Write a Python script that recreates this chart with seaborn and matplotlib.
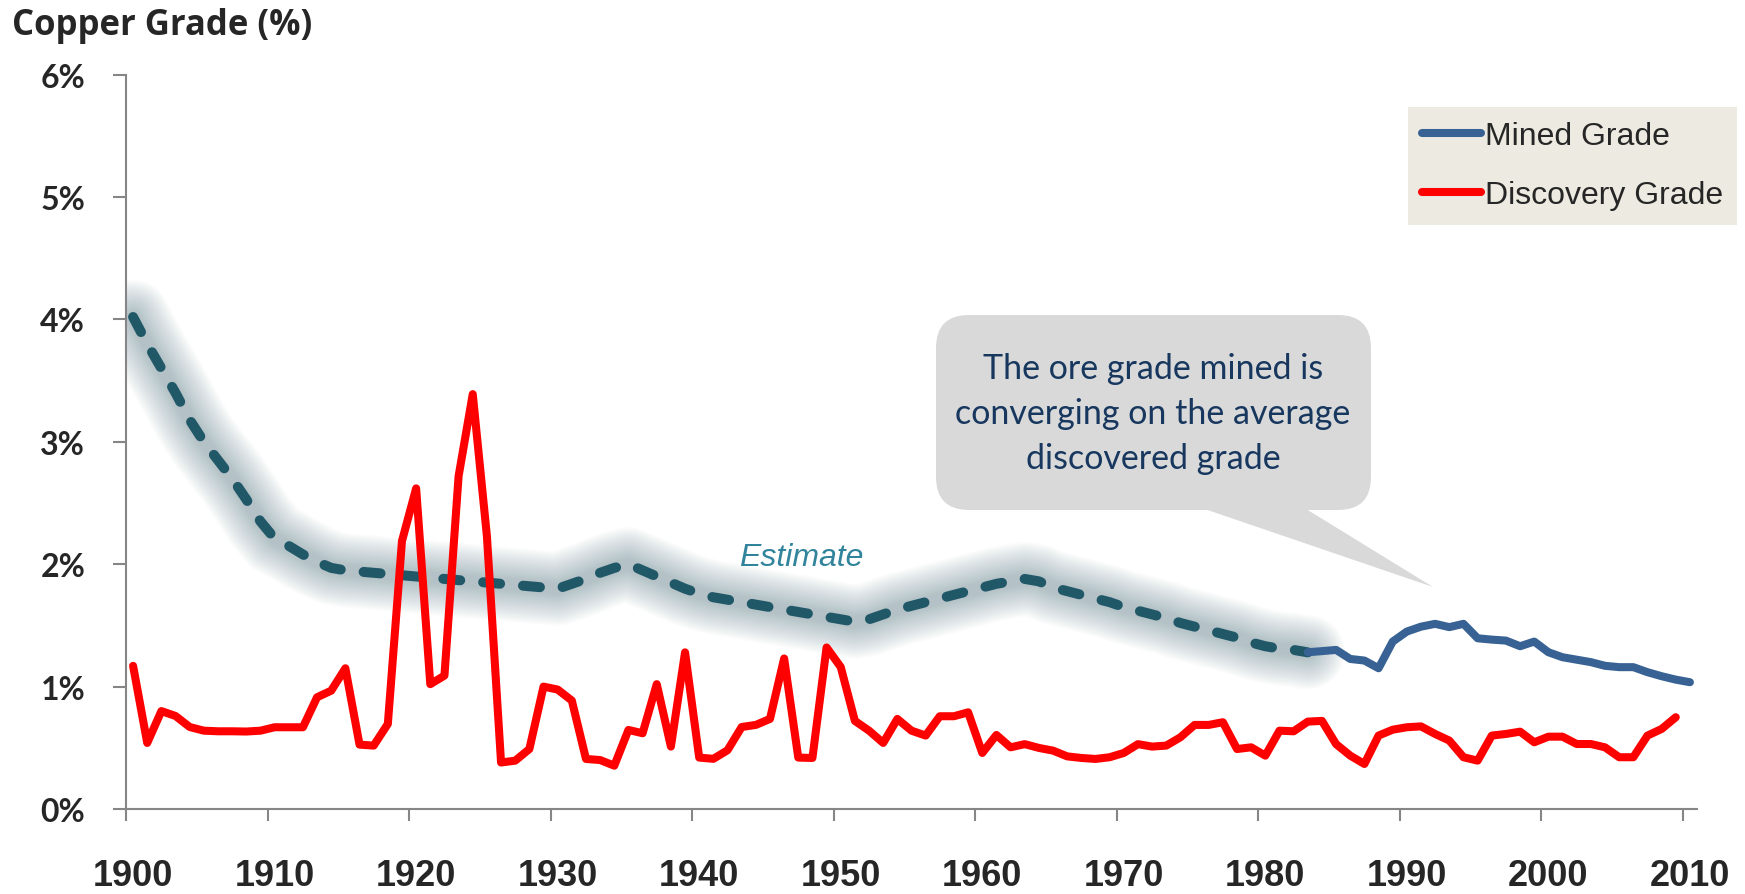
import matplotlib
matplotlib.use("Agg")
import numpy as np
import seaborn as sns
import matplotlib.pyplot as plt
from matplotlib import font_manager
from matplotlib.lines import Line2D
from matplotlib.patches import FancyBboxPatch, Polygon
from matplotlib.transforms import Affine2D

# discovery grade, 1900-2009
disc_years = list(range(1900, 2010))
discovery = [
    1.17, 0.54, 0.80, 0.76, 0.67, 0.64, 0.635, 0.635, 0.633, 0.64,
    0.668, 0.668, 0.668, 0.913, 0.967, 1.15, 0.526, 0.518, 0.695, 2.19,
    2.62, 1.02, 1.09, 2.72, 3.39, 2.23, 0.38, 0.395, 0.49, 1.00,
    0.976, 0.886, 0.409, 0.40, 0.354, 0.646, 0.619, 1.02, 0.51, 1.28,
    0.42, 0.41, 0.48, 0.67, 0.687, 0.736, 1.23, 0.42, 0.417, 1.32,
    1.16, 0.72, 0.64, 0.54, 0.736, 0.64, 0.60, 0.758, 0.758, 0.79,
    0.458, 0.605, 0.504, 0.53, 0.499, 0.477, 0.43, 0.417, 0.409, 0.423,
    0.458, 0.53, 0.51, 0.518, 0.586, 0.687, 0.687, 0.709, 0.49, 0.504,
    0.436, 0.64, 0.635, 0.714, 0.72, 0.53, 0.436, 0.368, 0.60, 0.648,
    0.668, 0.675, 0.613, 0.559, 0.423, 0.395, 0.60, 0.613, 0.632, 0.545,
    0.591, 0.591, 0.531, 0.531, 0.504, 0.423, 0.423, 0.60, 0.654, 0.75,
]

# mined grade, 1983-2010
mined_years = list(range(1983, 2011))
mined = [
    1.281, 1.29, 1.30, 1.226, 1.213, 1.15, 1.368, 1.45, 1.49, 1.513,
    1.486, 1.513, 1.395, 1.384, 1.376, 1.33, 1.368, 1.281, 1.24, 1.22,
    1.20, 1.17, 1.159, 1.159, 1.118, 1.085, 1.057, 1.036,
]

# estimated mined grade, 1900-1983
est_years = list(range(1900, 1984))
estimate = [
    4.02, 3.80, 3.60, 3.40, 3.18, 3.00, 2.85, 2.70, 2.53, 2.35,
    2.21, 2.15, 2.08, 2.02, 1.97, 1.95, 1.94, 1.93, 1.92, 1.91,
    1.90, 1.89, 1.88, 1.87, 1.86, 1.85, 1.84, 1.83, 1.82, 1.81,
    1.80, 1.84, 1.88, 1.93, 1.97, 2.00, 1.95, 1.90, 1.85, 1.80,
    1.76, 1.73, 1.71, 1.69, 1.67, 1.65, 1.63, 1.61, 1.59, 1.57,
    1.55, 1.53, 1.55, 1.59, 1.63, 1.66, 1.69, 1.72, 1.75, 1.78,
    1.81, 1.84, 1.86, 1.88, 1.86, 1.81, 1.78, 1.75, 1.72, 1.69,
    1.65, 1.62, 1.59, 1.56, 1.52, 1.49, 1.46, 1.43, 1.40, 1.36,
    1.33, 1.31, 1.30, 1.28,
]

tick_years = list(range(1900, 2011, 10))
y_ticks = [0, 1, 2, 3, 4, 5, 6]
y_labels = [f"{v}%" for v in y_ticks]

W, H = 1745, 895
BLUE = "#386293"
RED = "#FF0000"
TEAL = "#215868"
GREY = "#868686"

sns.set_style("white")
plt.rcParams['font.family'] = ['Lato', 'DejaVu Sans']

names = {f.name for f in font_manager.fontManager.ttflist}
narrow = 'Liberation Sans Narrow' if 'Liberation Sans Narrow' in names else 'Liberation Sans'

fig = plt.figure(figsize=(W / 100, H / 100), dpi=100)
ax = fig.add_axes([126 / W, (H - 810) / H, (1697 - 126) / W, (810 - 75.7) / H])
px = Affine2D().scale(1 / W, -1 / H).translate(0, 1) + fig.transFigure

# soft glow behind the estimate: many faint wide strokes
for w in np.linspace(74, 12, 18):
    sns.lineplot(x=est_years, y=estimate, ax=ax, color="#3d6575", linewidth=w * 0.72,
                 alpha=0.024, solid_capstyle='round', solid_joinstyle='round', legend=False)

sns.lineplot(x=est_years, y=estimate, ax=ax, color=TEAL, linewidth=7.2,
             linestyle=(0, (1.7, 2.3)), dash_capstyle='round', legend=False)
sns.lineplot(x=disc_years, y=discovery, ax=ax, color=RED, linewidth=5.8,
             solid_capstyle='round', solid_joinstyle='round', legend=False)
sns.lineplot(x=mined_years, y=mined, ax=ax, color=BLUE, linewidth=5.8,
             solid_capstyle='round', solid_joinstyle='round', legend=False)

ax.set_xlim(1899.5, 2010.5)
ax.set_ylim(0, 6)
ax.set_xlabel("")
ax.set_ylabel("")

ax.set_xticks([t - 0.5 for t in tick_years])
ax.set_xticklabels([])
ax.set_xticks(tick_years, minor=True)
ax.set_xticklabels([str(t) for t in tick_years], minor=True,
                   fontdict=dict(family=narrow, weight='bold', size=26))
ax.tick_params(axis='x', which='major', direction='out', length=8.6, width=1.5,
               color=GREY, bottom=True)
ax.tick_params(axis='x', which='minor', length=0, pad=35, bottom=True)

ax.set_yticks(y_ticks)
ax.set_yticklabels(y_labels, fontdict=dict(weight='bold', size=23))
ax.tick_params(axis='y', direction='out', length=9.4, width=1.5, color=GREY, pad=20, left=True)

for side in ['top', 'right']:
    ax.spines[side].set_visible(False)
for side in ['left', 'bottom']:
    ax.spines[side].set_color(GREY)
    ax.spines[side].set_linewidth(1.5)

handles = [Line2D([], [], color=BLUE, lw=5.8, solid_capstyle='round'),
           Line2D([], [], color=RED, lw=5.8, solid_capstyle='round')]
leg = ax.legend(handles, ["Mined Grade", "Discovery Grade"], loc='upper right',
                bbox_to_anchor=(1737 / W, (H - 108) / H), bbox_transform=fig.transFigure,
                frameon=True, fancybox=False, facecolor='#ECEAE1', edgecolor='none',
                framealpha=1, prop=dict(family=narrow, size=23), handlelength=1.85,
                handletextpad=0.1, labelspacing=0.9, borderpad=0.45, borderaxespad=0)

# callout
fig.add_artist(FancyBboxPatch((936, 316), 435, 195, boxstyle='round,pad=0,rounding_size=33',
                              transform=px, fc='#D9D9D9', ec='none'))
fig.add_artist(Polygon([(1190, 505), (1298, 505), (1433, 588)], closed=True,
                       transform=px, fc='#D9D9D9', ec='none'))
fig.text(1153 / W, 1 - 414 / H, "The ore grade mined is\nconverging on the average\ndiscovered grade",
         ha='center', va='center', fontsize=24.5, color='#17375E', linespacing=1.5,
         multialignment='center')

fig.text(801 / W, 1 - 558 / H, "Estimate", ha='center', va='center', fontsize=23,
         style='italic', color='#31849B', family=narrow)

fig.text(12 / W, 1 - 35 / H, "Copper Grade (%)", ha='left', va='baseline', fontsize=25,
         fontweight='bold', family=['Open Sans', 'DejaVu Sans'])

fig.savefig('out.png', dpi=100)
